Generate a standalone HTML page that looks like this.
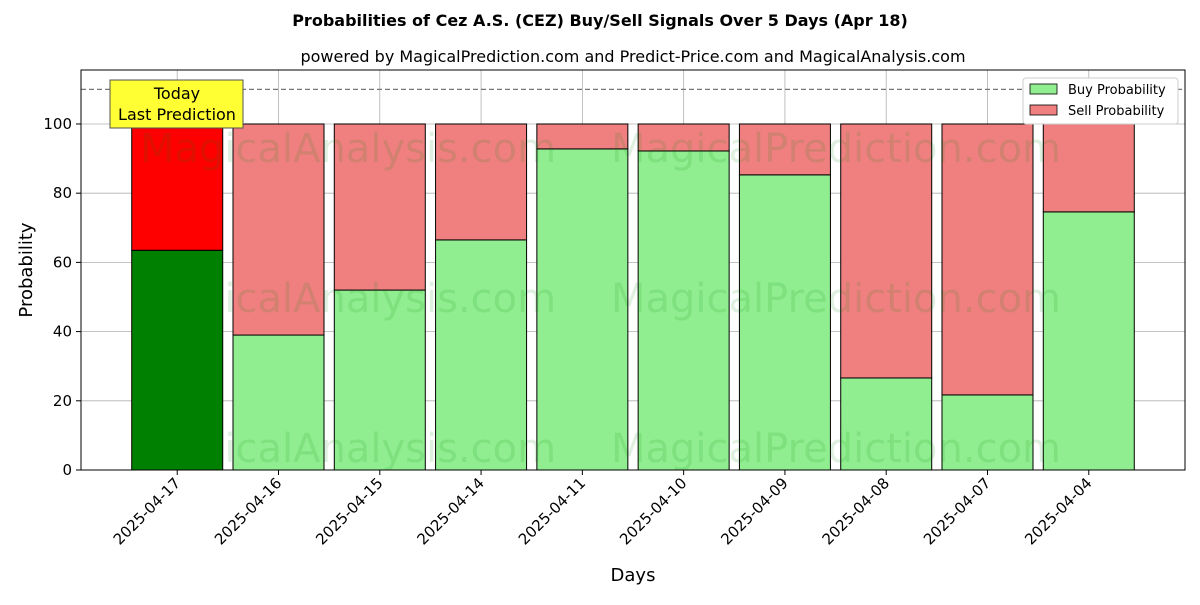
<!DOCTYPE html>
<html><head><meta charset="utf-8">
<style>
body{margin:0;background:#fff;font-family:"Liberation Sans","DejaVu Sans",sans-serif;}
svg text{font-family:"DejaVu Sans","Liberation Sans",sans-serif;}
</style></head>
<body>
<svg id="chart" width="1200" height="600" xmlns="http://www.w3.org/2000/svg">
<text x="600" y="26" text-anchor="middle" font-size="16" font-weight="bold">Probabilities of Cez A.S. (CEZ) Buy/Sell Signals Over 5 Days (Apr 18)</text>
<text x="633" y="62" text-anchor="middle" font-size="16">powered by MagicalPrediction.com and Predict-Price.com and MagicalAnalysis.com</text>
<g id="grid"></g>
<g id="bars"></g>
<g id="wm" font-size="40" fill="rgba(0,128,0,0.12)" text-anchor="middle">
<text x="348" y="162">MagicalAnalysis.com</text>
<text x="836" y="162">MagicalPrediction.com</text>
<text x="348" y="312">MagicalAnalysis.com</text>
<text x="836" y="312">MagicalPrediction.com</text>
<text x="348" y="462">MagicalAnalysis.com</text>
<text x="836" y="462">MagicalPrediction.com</text>
</g>
<line x1="81" x2="1185" y1="89.4" y2="89.4" stroke="#777" stroke-dasharray="5,3" stroke-width="1.2"/>
<rect x="81" y="70" width="1104" height="400" fill="none" stroke="#000" stroke-width="1"/>
<g id="axes"></g>
<g>
<rect x="110" y="80" width="133" height="48" fill="#ffff33" stroke="#555"/>
<text x="177" y="99" text-anchor="middle" font-size="16">Today</text>
<text x="177" y="120" text-anchor="middle" font-size="16">Last Prediction</text>
</g>
<g>
<rect x="1023" y="78" width="155" height="46" fill="#fff" stroke="#ccc" rx="3"/>
<rect x="1030" y="84" width="27" height="10" fill="#90ee90" stroke="#000" stroke-width="0.8"/>
<text x="1068" y="94" font-size="13">Buy Probability</text>
<rect x="1030" y="105" width="27" height="10" fill="#f08080" stroke="#000" stroke-width="0.8"/>
<text x="1068" y="115" font-size="13">Sell Probability</text>
</g>
<text x="633" y="581" text-anchor="middle" font-size="18">Days</text>
<text x="32" y="270" text-anchor="middle" font-size="18" transform="rotate(-90 32 270)">Probability</text>
</svg>
<script>
const categories=["2025-04-17","2025-04-16","2025-04-15","2025-04-14","2025-04-11","2025-04-10","2025-04-09","2025-04-08","2025-04-07","2025-04-04"];
const buyValues=[63.5,39.0,52.0,66.5,92.8,92.2,85.3,26.6,21.7,74.6];
const sellValues=buyValues.map(v=>100-v);
const yTicks=[0,20,40,60,80,100];
const NS="http://www.w3.org/2000/svg";
const X0=81,X1=1185,Y0=470,Y1=70,ymax=115.6,xmin=-0.95,xmax=9.95;
const xs=i=>X0+(i-xmin)/(xmax-xmin)*(X1-X0);
const ys=v=>Y0-v/ymax*(Y0-Y1);
function mk(t,a,p){const e=document.createElementNS(NS,t);for(const k in a)e.setAttribute(k,a[k]);p.appendChild(e);return e;}
const grid=document.getElementById('grid'),bars=document.getElementById('bars'),axes=document.getElementById('axes');
yTicks.forEach(t=>{
 const l=mk('line',{x1:X0,x2:X1,y1:ys(t),y2:ys(t),stroke:'#b0b0b0','stroke-width':0.8},grid);
 
 
 mk('line',{x1:X0-5,x2:X0,y1:ys(t),y2:ys(t),stroke:'#000'},axes);
 const tx=mk('text',{x:X0-9,y:ys(t)+5,'text-anchor':'end','font-size':15},axes);tx.textContent=t;
 
 
});
const bw=91/((X1-X0)/(xmax-xmin));
categories.forEach((c,i)=>{
 const cx=xs(i);
 const g=mk('line',{x1:cx,x2:cx,y1:Y1,y2:Y0,stroke:'#b0b0b0','stroke-width':0.8},grid);
 
 
 const left=xs(i-bw/2),w=xs(i+bw/2)-left;
 const b=mk('rect',{x:left,y:ys(buyValues[i]),width:w,height:ys(0)-ys(buyValues[i]),fill:i==0?'#008000':'#90ee90',stroke:'#000','stroke-width':1},bars);
 
 
 const s=mk('rect',{x:left,y:ys(100),width:w,height:ys(buyValues[i])-ys(100),fill:i==0?'#ff0000':'#f08080',stroke:'#000','stroke-width':1},bars);
 
 
 mk('line',{x1:cx,x2:cx,y1:Y0,y2:Y0+5,stroke:'#000'},axes);
 const tx=mk('text',{x:cx+4,y:Y0+14,'text-anchor':'end','font-size':15,transform:`rotate(-45 ${cx+4} ${Y0+14})`},axes);tx.textContent=c;
 
 
});
</script>
</body></html>
